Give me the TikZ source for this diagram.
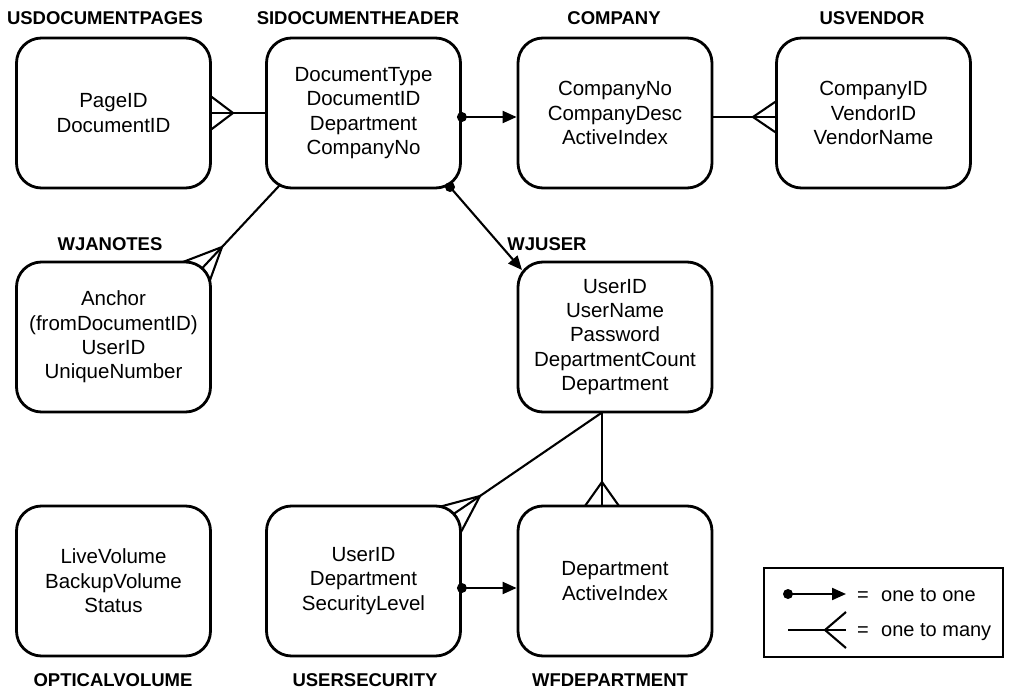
\documentclass[tikz,border=0pt]{standalone}
\usepackage{fontspec}
\setmainfont{Liberation Sans}
\usetikzlibrary{arrows.meta}
\begin{document}
\begin{tikzpicture}[x=1pt,y=-1pt,
  entity/.style={draw,line width=2.8pt,rounded corners=25pt,minimum width=194pt,minimum height=150pt,align=center,font=\fontsize{20.5}{24.4}\selectfont,inner sep=0pt},
  etitle/.style={font=\bfseries\fontsize{18.5}{20}\selectfont,inner sep=0pt,anchor=base},
  conn/.style={line width=2.1pt},
  onearrow/.style={conn,-{Triangle[length=14pt,width=12pt]}},
  dotnode/.style={circle,fill,inner sep=0pt,minimum size=10pt},
  legtext/.style={font=\fontsize{20}{24}\selectfont,inner sep=0pt,anchor=base west}
]
\useasboundingbox (0,0) rectangle (1010,690);

% entities
\node[entity] (udp) at (113.5,113) {PageID\\DocumentID};
\node[entity] (sid) at (363.5,113) {DocumentType\\DocumentID\\Department\\CompanyNo};
\node[entity] (comp) at (615,113) {CompanyNo\\CompanyDesc\\ActiveIndex};
\node[entity] (usv) at (873.5,113) {CompanyID\\VendorID\\VendorName};
\node[entity] (wjn) at (113.5,337) {Anchor\\(fromDocumentID)\\UserID\\UniqueNumber};
\node[entity] (wju) at (615,337) {UserID\\UserName\\Password\\DepartmentCount\\Department};
\node[entity] (opt) at (113.5,581) {LiveVolume\\BackupVolume\\Status};
\node[entity] (uss) at (363.5,581) {UserID\\Department\\SecurityLevel};
\node[entity] (wfd) at (615,581) {Department\\ActiveIndex};

% titles
\node[etitle] (tudp) at (105,25) {USDOCUMENTPAGES};
\node[etitle] (tsid) at (358,25) {SIDOCUMENTHEADER};
\node[etitle] (tcomp) at (614,25) {COMPANY};
\node[etitle] (tusv) at (872,25) {USVENDOR};
\node[etitle] (twjn) at (110,250) {WJANOTES};
\node[etitle] (twju) at (547,250) {WJUSER};
\node[etitle] (topt) at (113,686) {OPTICALVOLUME};
\node[etitle] (tuss) at (365,686) {USERSECURITY};
\node[etitle] (twfd) at (610,686) {WFDEPARTMENT};

% USDOCUMENTPAGES -< SIDOCUMENTHEADER
\coordinate (a1) at (233,113);
\coordinate (a1p) at (210.5,96);
\coordinate (a1q) at (210.5,130);
\draw[conn] (sid.west) -- (udp.east);
\draw[conn] (a1p) -- (a1) -- (a1q);

% SIDOCUMENTHEADER -> COMPANY
\node[dotnode] (d1) at ([yshift=-4pt]sid.east) {};
\draw[onearrow] (d1.center) -- ([yshift=-4pt]comp.west);

% COMPANY -< USVENDOR
\coordinate (a2) at (753,117);
\coordinate (a2p) at (776.5,101);
\coordinate (a2q) at (776.5,133);
\draw[conn] ([yshift=-4pt]comp.east) -- ([yshift=-4pt]usv.west);
\draw[conn] (a2p) -- (a2) -- (a2q);

% SIDOCUMENTHEADER -< WJANOTES
\coordinate (s3) at (279.7,185.2);
\coordinate (a3) at (222,247);
\coordinate (a3m) at (201.9,268.5);
\coordinate (a3p) at (183,262);
\coordinate (a3q) at (209.5,281.5);
\draw[conn] (s3) -- (a3) -- (a3m);
\draw[conn] (a3p) -- (a3) -- (a3q);

% SIDOCUMENTHEADER -> WJUSER
\node[dotnode] (d2) at (450,187) {};
\coordinate (e2) at (522,270);
\draw[onearrow] (d2.center) -- (e2);

% WJUSER -< USERSECURITY
\coordinate (s4) at (602,412.5);
\coordinate (a4) at (480,496);
\coordinate (a4m) at (453.4,514.1);
\coordinate (a4p) at (439,507);
\coordinate (a4q) at (460.5,533);
\draw[conn] (s4) -- (a4) -- (a4m);
\draw[conn] (a4p) -- (a4) -- (a4q);

% WJUSER -< WFDEPARTMENT
\coordinate (a5) at (602,482);
\coordinate (a5p) at (585,506);
\coordinate (a5q) at (619,506);
\draw[conn] (s4) -- (602,506);
\draw[conn] (a5p) -- (a5) -- (a5q);

% USERSECURITY -> WFDEPARTMENT
\node[dotnode] (d3) at ([yshift=-7pt]uss.east) {};
\draw[onearrow] (d3.center) -- ([yshift=-7pt]wfd.west);

% legend
\node[draw,line width=2.8pt,minimum width=239pt,minimum height=89pt,inner sep=0pt] (leg) at (883.5,612.5) {};
\node[dotnode] (ld) at (788,594) {};
\coordinate (lt) at (846,594);
\draw[onearrow] (ld.center) -- (lt);
\coordinate (ls) at (788,630);
\coordinate (le) at (846,630);
\coordinate (la) at (825,630);
\coordinate (lp) at (846,612);
\coordinate (lq) at (846,648);
\draw[conn] (ls) -- (le);
\draw[conn] (lp) -- (la) -- (lq);
\node[legtext] (eq1) at (857,601) {=};
\node[legtext] (lt1) at (881,601) {one to one};
\node[legtext] (eq2) at (857,636) {=};
\node[legtext] (lt2) at (881,636) {one to many};
\end{tikzpicture}
\end{document}
